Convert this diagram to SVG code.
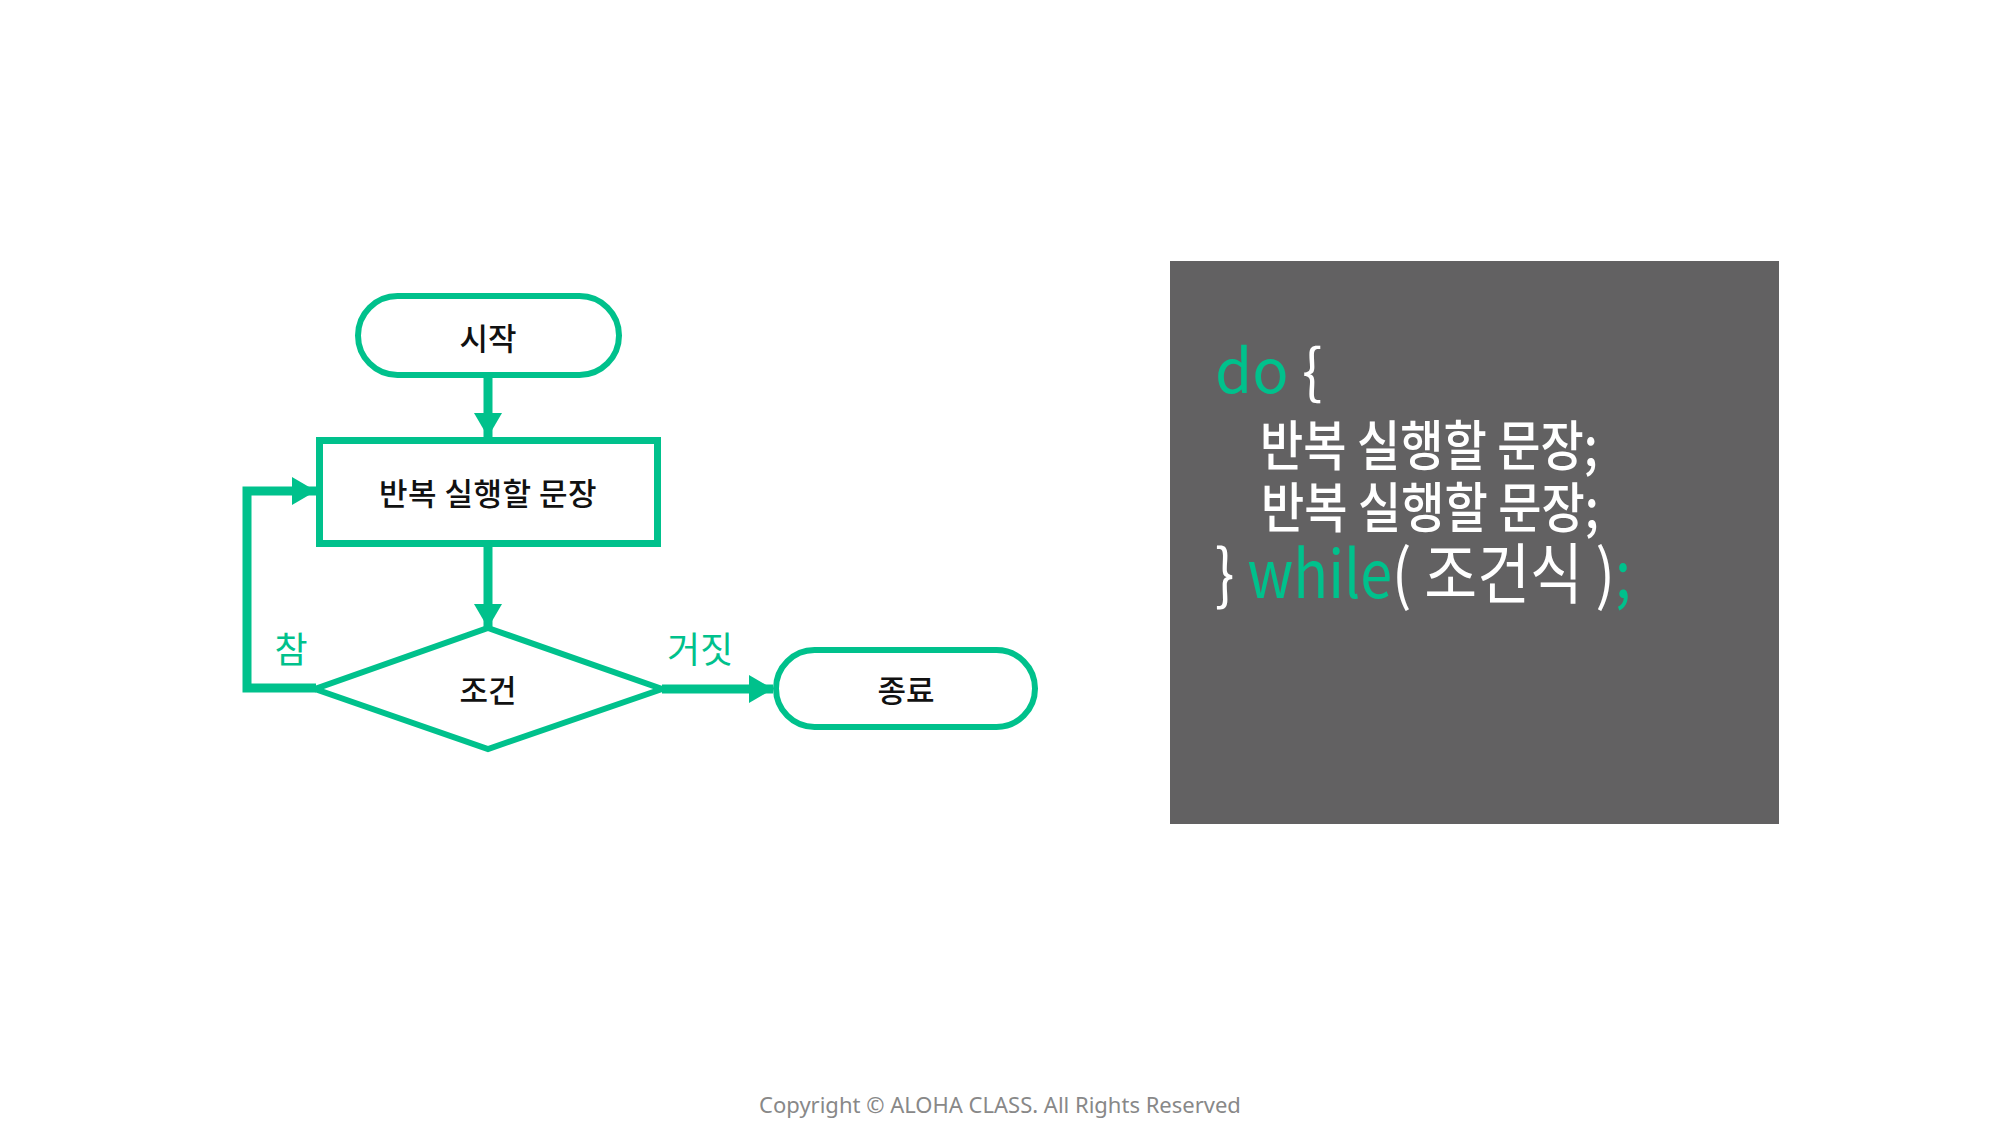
<svg xmlns="http://www.w3.org/2000/svg" width="2000" height="1131" viewBox="0 0 2000 1131">
<style>
.shape{fill:#fff;stroke:#00c18c;stroke-width:6}
.conn{fill:none;stroke:#00c18c;stroke-width:9}
.lbl{font-family:"Noto Sans CJK KR","Noto Sans",sans-serif;font-size:31px;font-weight:500;fill:#111;text-anchor:middle;dominant-baseline:central}
.glbl{font-family:"Noto Sans CJK KR","Noto Sans",sans-serif;font-size:36px;fill:#00c18c}
.code{font-family:"Noto Sans CJK KR","Noto Sans",sans-serif;fill:#fff}
.stmt{font-weight:500}
.kw{fill:#00c18c}
</style>
<defs>
<marker id="arr" markerUnits="userSpaceOnUse" markerWidth="26" markerHeight="28" refX="24" refY="14" orient="auto">
<path d="M0,0 L24,14 L0,28 z" fill="#00c18c"/>
</marker>
</defs>
<rect width="2000" height="1131" fill="#fff"/>
<g id="connectors">
<path class="conn" d="M488,378 V437" marker-end="url(#arr)"/>
<path class="conn" d="M488,544 V628" marker-end="url(#arr)"/>
<path class="conn" d="M316,688 H247 V491 H316" marker-end="url(#arr)"/>
<path class="conn" d="M662,689 H773" marker-end="url(#arr)"/>
<text class="glbl" x="291" y="663" text-anchor="middle">참</text>
<text class="glbl" x="700" y="663" text-anchor="middle">거짓</text>
</g>
<g id="start">
<rect class="shape" x="358" y="296" width="261" height="79" rx="39.5"/>
<text class="lbl" x="488" y="336">시작</text>
</g>
<g id="body">
<rect class="shape" x="319.5" y="440.5" width="338" height="103" style="stroke-width:7"/>
<text class="lbl" x="488" y="491" letter-spacing="0.5">반복 실행할 문장</text>
</g>
<g id="cond">
<polygon class="shape" points="488,628 662,689 488,749 315,689"/>
<text class="lbl" x="488" y="688">조건</text>
</g>
<g id="end">
<rect class="shape" x="776" y="650" width="259" height="77" rx="38.5"/>
<text class="lbl" x="906" y="688">종료</text>
</g>
<g id="code">
<rect x="1170" y="261" width="609" height="563" fill="#626162"/>
<text class="code" x="1215" y="393" font-size="60"><tspan class="kw">do</tspan> {</text>
<text class="code stmt" transform="translate(1260,466) scale(0.87,1)" font-size="54">반복 실행할 문장;</text>
<text class="code stmt" transform="translate(1261,528) scale(0.87,1)" font-size="54">반복 실행할 문장;</text>
<text class="code" transform="translate(1215,598) scale(0.87,1)" font-size="66">} <tspan class="kw">while</tspan>( 조건식 )<tspan class="kw">;</tspan></text>
</g>
<text x="1000" y="1113" font-family="'Noto Sans','Noto Sans CJK KR',sans-serif" font-size="22" fill="#888" text-anchor="middle">Copyright © ALOHA CLASS. All Rights Reserved</text>
</svg>
